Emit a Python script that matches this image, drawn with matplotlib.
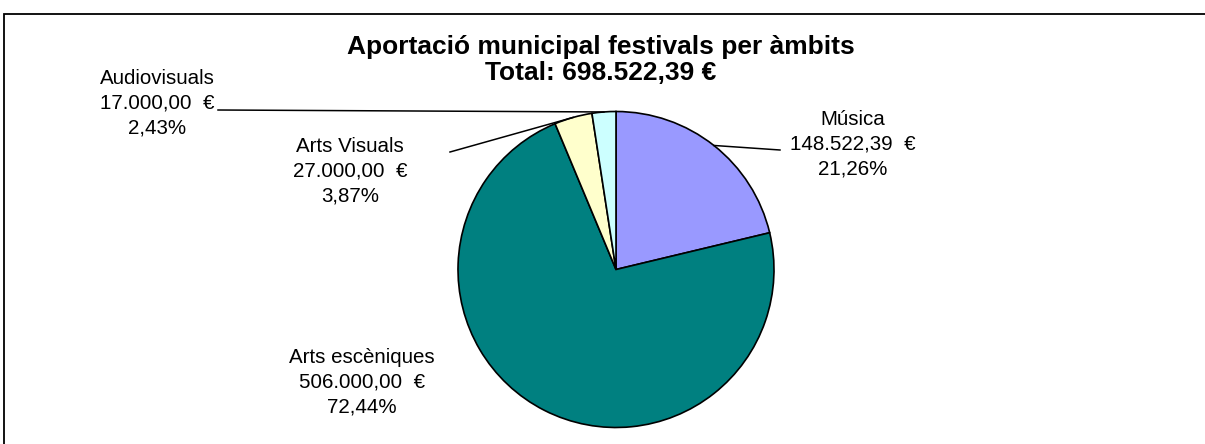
import numpy as np
import matplotlib.pyplot as plt
from matplotlib.patches import Rectangle

# data
categories = ["Música", "Arts escèniques", "Arts Visuals", "Audiovisuals"]
values = [148522.39, 506000.00, 27000.00, 17000.00]
colors = ["#9999FF", "#008080", "#FFFFCC", "#CCFFFF"]
title = "Aportació municipal festivals per àmbits"

# layout in image pixels (x from left, y from top)
W, H = 1205, 444
label_pos = [(853, 144), (362, 382), (350, 171), (157, 103)]
leader_from = [(780, 150), None, (450, 152), (218, 110)]


def euro(v):
    s = f"{v:,.2f}"
    return s.replace(",", "X").replace(".", ",").replace("X", ".")


total = sum(values)

fig = plt.figure(figsize=(W / 100, H / 100), dpi=100)
ax = fig.add_axes([0, 0, 1, 1])

cx, cy, r = 616, H - 269.5, 158
wedges, _ = ax.pie(
    values,
    colors=colors,
    startangle=90,
    counterclock=False,
    center=(cx, cy),
    radius=r,
    wedgeprops=dict(edgecolor="black", linewidth=1.2),
)
ax.set_xlim(0, W)
ax.set_ylim(0, H)
ax.set_aspect("auto")
ax.axis("off")

for w, cat, v, (lx, ly), src in zip(wedges, categories, values, label_pos, leader_from):
    pct = f"{v / total * 100:.2f}".replace(".", ",")
    ax.text(lx, H - ly, f"{cat}\n{euro(v)}  €\n{pct}%",
            ha="center", va="center", fontsize=14.8,
            family="Liberation Sans", linespacing=1.38)
    if src is not None:
        mid = np.deg2rad((w.theta1 + w.theta2) / 2)
        ex, ey = cx + r * np.cos(mid), cy + r * np.sin(mid)
        ax.plot([src[0], ex], [H - src[1], ey], color="black", lw=1.1)

ax.text(601, H - 60, f"{title}\nTotal: {euro(total)} €",
        ha="center", va="center", fontsize=19, fontweight="bold",
        family="Liberation Sans", linespacing=1.15)

# chart border (only top and left visible in the crop)
ax.add_patch(Rectangle((4, -20), W + 20, H - 14 + 20, fill=False,
                       edgecolor="black", lw=1.3, clip_on=False))

fig.savefig("out.png", dpi=100)
